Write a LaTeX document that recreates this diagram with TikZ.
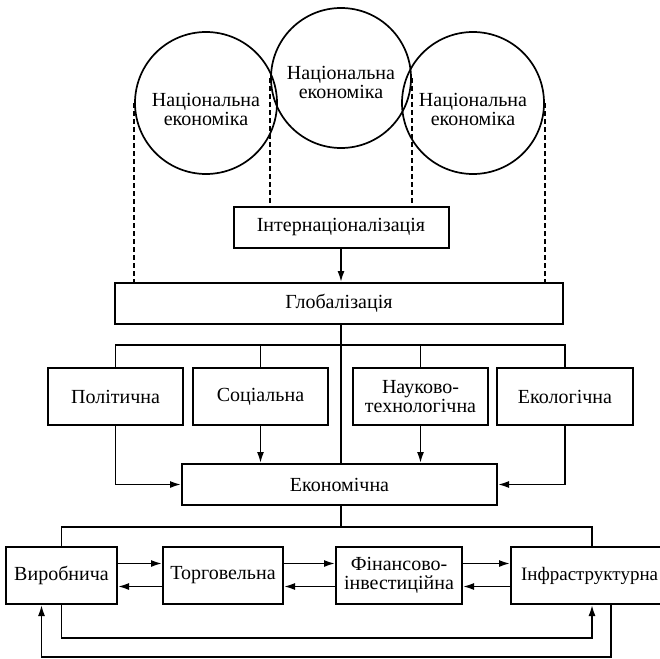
\documentclass[tikz,border=0pt]{standalone}
\usepackage{fontspec}
\setmainfont{Liberation Serif}
\usepackage{tikz}
\usetikzlibrary{positioning}
\usetikzlibrary{calc}
\usetikzlibrary{arrows.meta}

\begin{document}
\begin{tikzpicture}[x=1pt, y=-1pt,
    txt/.style={inner sep=0pt, align=center, font=\fontsize{20}{19}\selectfont},
    box/.style={txt, draw, line width=2pt},
    country/.style={draw, circle, line width=1.7pt, minimum size=142pt, inner sep=0pt},
    link/.style={line width=1.6pt},
    arr/.style={link, -{Latex[length=11pt, width=7pt]}},
    dashline/.style={line width=1.4pt, dash pattern=on 5pt off 3pt}]

    \useasboundingbox (0,0) rectangle (660,658);

    % national economies
    \node[country] (ne1) at (206,103) {};
    \node[country, minimum size=140pt] (ne2) at (341,78) {};
    \node[country] (ne3) at (473,103) {};
    \node[txt] (ne1t) at (206,109) {Національна\\економіка};
    \node[txt] (ne2t) at (341,82) {Національна\\економіка};
    \node[txt] (ne3t) at (473,109) {Національна\\економіка};

    \node[box, minimum width=215pt, minimum height=41pt] (intl) at (341,227.5) {Інтернаціоналізація};
    \node[box, minimum width=448pt, minimum height=41pt] (glob) at (339,303.5) {Глобалізація};

    \node[box, minimum width=135pt, minimum height=57pt] (pol) at (115.5,396.5) {Політична};
    \node[box, minimum width=135pt, minimum height=57pt] (soc) at (260.5,396.5) {Соціальна};
    \node[box, minimum width=135pt, minimum height=57pt] (sci) at (420.5,396.5) {Науково-\\технологічна};
    \node[box, minimum width=136pt, minimum height=57pt] (eco) at (565,396.5) {Екологічна};

    \node[box, minimum width=315pt, minimum height=41pt] (econ) at (339.5,484.5) {Економічна};

    \node[box, minimum width=111pt, minimum height=57pt] (vyr) at (61.5,575.5) {Виробнича};
    \node[box, minimum width=120pt, minimum height=57pt] (trade) at (223,575.5) {Торговельна};
    \node[box, minimum width=126pt, minimum height=57pt] (fin) at (399,575.5) {Фінансово-\\інвестиційна};
    \node[box, minimum width=162pt, minimum height=57pt, font=\fontsize{19}{18}\selectfont, text width=142pt, align=left, inner xsep=10pt] (infra) at (592,575.5) {Інфраструктурна};

    \coordinate (bus1) at (341,345);
    \coordinate (bus2) at (341,527);

    % dashed projections
    \draw[dashline] (ne1.west) -- (ne1.west |- glob.north);
    \draw[dashline] (ne2.west) -- (ne2.west |- intl.north);
    \draw[dashline] (ne2.east) -- (ne2.east |- intl.north);
    \draw[dashline] (ne3.east) -- (ne3.east |- glob.north);

    \draw[arr] (intl.south) -- (intl.south |- glob.north);

    % globalization spheres
    \draw[link] ([xshift=2pt]glob.south) -- ([xshift=2pt]glob.south |- econ.north);
    \draw[link] (pol.north) |- (bus1) -| (eco.north);
    \foreach \n in {soc,sci}
        \draw[link] (\n.north) -- (\n.north |- bus1);

    \draw[arr] (pol.south) |- (econ.west);
    \draw[arr] (eco.south) |- (econ.east);
    \foreach \n in {soc,sci}
        \draw[arr] (\n.south) -- (\n.south |- econ.north);

    % economic forms
    \draw[link] ([xshift=1.5pt]econ.south) -- ([xshift=1.5pt]econ.south |- bus2);
    \draw[link] (vyr.north) |- (bus2) -| (infra.north);

    \foreach \a/\b in {vyr/trade, trade/fin, fin/infra}
    {
        \draw[arr] ([yshift=12pt]\a.east) -- ([yshift=12pt]\b.west);
        \draw[arr] ([yshift=-11pt]\b.west) -- ([yshift=-11pt]\a.east);
    }

    \draw[arr] (vyr.south) -- ++(0,33) -| (infra.south);
    \draw[arr] ([xshift=19pt]infra.south) -- ++(0,52) -| ([xshift=-20pt]vyr.south);
\end{tikzpicture}
\end{document}
